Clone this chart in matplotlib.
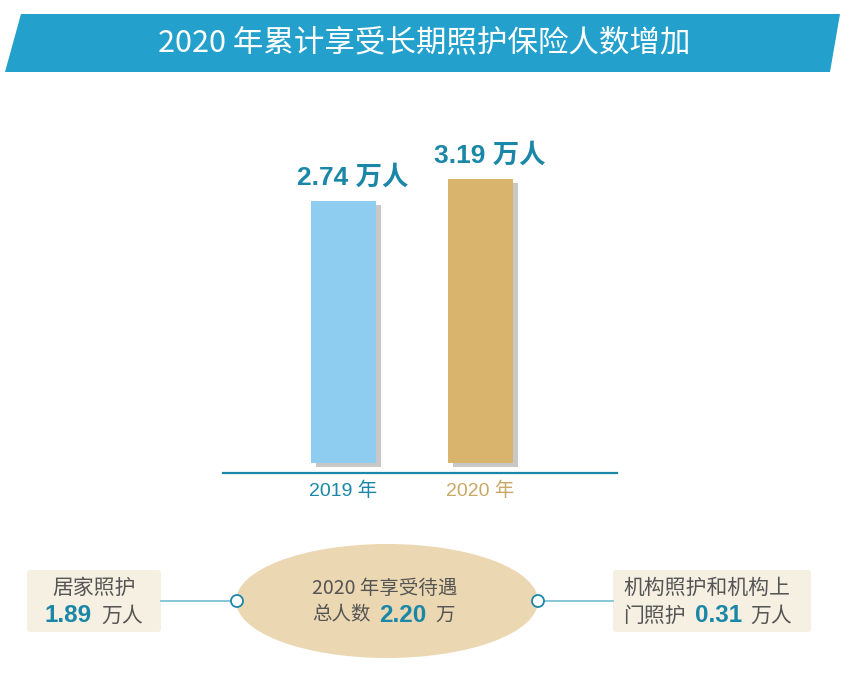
import matplotlib
matplotlib.use("Agg")
import matplotlib.pyplot as plt
import matplotlib.patheffects as pe
from matplotlib.patches import Polygon, Ellipse, Circle, FancyBboxPatch

plt.rcParams['font.family'] = ['Noto Sans CJK SC', 'DejaVu Sans']
num_font = ['Liberation Sans', 'Noto Sans CJK SC']

# data
title = "2020 年累计享受长期照护保险人数增加"
years = ["2019 年", "2020 年"]
values = [2.74, 3.19]          # 万人
unit = "万人"
total_2020 = 2.20              # 万
home_care = 1.89               # 万人
inst_care = 0.31               # 万人

teal = "#1b87a8"
bar_colors = ["#8fcdf0", "#d8b46c"]
year_colors = ["#1b87a8", "#c9a865"]
grey_text = "#555555"

W, H = 851, 679
fig = plt.figure(figsize=(W / 100, H / 100), dpi=100)
fig.patch.set_facecolor("white")

# overlay in pixel coordinates for the decorations
ov = fig.add_axes([0, 0, 1, 1])
ov.set_xlim(0, W)
ov.set_ylim(H, 0)
ov.axis("off")

# title banner
ov.add_patch(Polygon([(21, 14), (840, 14), (830, 72), (5, 72)],
                     closed=True, fc="#23a0cb", ec="none"))
ov.text(424, 44, title, color="white", fontsize=22, fontweight="medium",
        ha="center", va="center")

# bar chart axes
def fx(px):
    return px / W

def fy(py):
    return 1 - py / H

ax_l, ax_r, ax_t, ax_b = 223, 617, 120, 473
ax = fig.add_axes([fx(ax_l), fy(ax_b), fx(ax_r) - fx(ax_l), fy(ax_t) - fy(ax_b)])
ax.patch.set_alpha(0)

ppu = 48.9                      # pixels per unit
centre0, step = 343, 137        # pixel centre of first bar, spacing
ax.set_xlim(-(centre0 - ax_l) / step, (ax_r - centre0) / step)
top_px_first = 201
base = values[0] - (463 - top_px_first) / ppu
ymin = base - (ax_b - 463) / ppu
ymax = values[0] + (top_px_first - ax_t) / ppu
ax.set_ylim(ymin, ymax)

xs = list(range(len(values)))
bars = ax.bar(xs, [v - base for v in values], bottom=base, width=65 / step,
              color=bar_colors, zorder=3)
for b in bars:
    b.set_path_effects([pe.SimplePatchShadow(offset=(4, -3), shadow_rgbFace="#777777", alpha=0.4),
                        pe.Normal()])

for x, v in zip(xs, values):
    ax.annotate(f"{v:.2f} {unit}", xy=(x, v), xytext=(7, 8), textcoords="offset points",
                ha="center", va="bottom", fontsize=19, fontweight="bold", color=teal,
                family=num_font)

for s in ["top", "right", "left"]:
    ax.spines[s].set_visible(False)
ax.spines["bottom"].set_color(teal)
ax.spines["bottom"].set_linewidth(1.6)
ax.set_yticks([])
ax.set_xticks(xs)
ax.set_xticklabels(years, fontsize=14, family=num_font)
for lab, c in zip(ax.get_xticklabels(), year_colors):
    lab.set_color(c)
ax.tick_params(axis="x", length=0, pad=6)

# bottom diagram
cy = 601
ov.add_patch(FancyBboxPatch((27, 570), 134, 62, boxstyle="round,pad=0,rounding_size=3",
                            fc="#f6f0e3", ec="none"))
ov.add_patch(FancyBboxPatch((613, 570), 198, 62, boxstyle="round,pad=0,rounding_size=3",
                            fc="#f6f0e3", ec="none"))
ov.plot([161, 231], [cy, cy], color="#7cc3d6", lw=1.3)
ov.plot([544, 613], [cy, cy], color="#7cc3d6", lw=1.3)
ov.add_patch(Ellipse((387, cy), 302, 114, fc="#ebd7b1", ec="none"))
for cx in (237, 538):
    ov.add_patch(Circle((cx, cy), 6, fc="white", ec=teal, lw=1.3, zorder=5))

# left box text
ov.text(94, 588, "居家照护", fontsize=15, color=grey_text, ha="center", va="center")
ov.text(45, 616, f"{home_care:.2f}", fontsize=17.5, fontweight="bold", color=teal,
        ha="left", va="center", family=num_font)
ov.text(101, 616, unit, fontsize=15, color=grey_text, ha="left", va="center")

# ellipse text
ov.text(312, 588, "2020 年享受待遇", fontsize=14, color=grey_text, ha="left", va="center")
ov.text(312, 615, "总人数", fontsize=14, color=grey_text, ha="left", va="center")
ov.text(379, 615, f"{total_2020:.2f}", fontsize=17.5, fontweight="bold", color=teal,
        ha="left", va="center", family=num_font)
ov.text(435, 615, "万", fontsize=14, color=grey_text, ha="left", va="center")

# right box text
ov.text(623, 588, "机构照护和机构上", fontsize=15, color=grey_text, ha="left", va="center")
ov.text(623, 616, "门照护", fontsize=15, color=grey_text, ha="left", va="center")
ov.text(695, 616, f"{inst_care:.2f}", fontsize=17.5, fontweight="bold", color=teal,
        ha="left", va="center", family=num_font)
ov.text(750, 616, unit, fontsize=15, color=grey_text, ha="left", va="center")

fig.savefig("out.png", dpi=100)
